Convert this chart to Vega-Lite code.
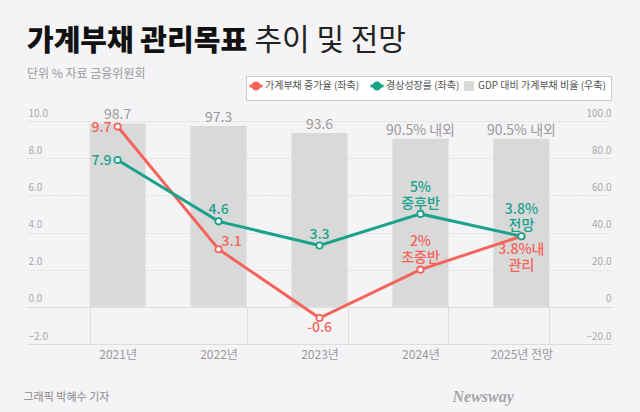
{
  "$schema": "https://vega.github.io/schema/vega-lite/v6.json",
  "width": 585,
  "height": 223,
  "autosize": {"type": "none"},
  "padding": {"left": 27, "top": 121, "right": 28, "bottom": 68},
  "background": "#f4f4f6",
  "config": {"font": "Noto Sans CJK KR", "view": {"stroke": null}},
  "title": {
    "text": "가계부채 관리목표",
    "subtitle": "단위 %   자료 금융위원회",
    "anchor": "start",
    "frame": "group",
    "fontSize": 29,
    "fontWeight": 900,
    "color": "#111111",
    "subtitleFontSize": 12,
    "subtitleColor": "#999999",
    "subtitlePadding": 12,
    "offset": -55
  },
  "datasets": {
    "bars": [
      {"year": "2021년", "series": "GDP 대비 가계부채 비율 (우축)", "value": 98.7, "label": "98.7"},
      {"year": "2022년", "series": "GDP 대비 가계부채 비율 (우축)", "value": 97.3, "label": "97.3"},
      {"year": "2023년", "series": "GDP 대비 가계부채 비율 (우축)", "value": 93.6, "label": "93.6"},
      {"year": "2024년", "series": "GDP 대비 가계부채 비율 (우축)", "value": 90.5, "label": "90.5% 내외"},
      {"year": "2025년 전망", "series": "GDP 대비 가계부채 비율 (우축)", "value": 90.5, "label": "90.5% 내외"}
    ],
    "lines": [
      {"year": "2021년", "series": "가계부채 증가율 (좌축)", "value": 9.7, "label": "9.7"},
      {"year": "2022년", "series": "가계부채 증가율 (좌축)", "value": 3.1, "label": "3.1"},
      {"year": "2023년", "series": "가계부채 증가율 (좌축)", "value": -0.6, "label": "-0.6"},
      {"year": "2024년", "series": "가계부채 증가율 (좌축)", "value": 2, "label": "2%\n초중반"},
      {"year": "2025년 전망", "series": "가계부채 증가율 (좌축)", "value": 3.8, "label": "3.8%내\n관리"},
      {"year": "2021년", "series": "경상성장률 (좌축)", "value": 7.9, "label": "7.9"},
      {"year": "2022년", "series": "경상성장률 (좌축)", "value": 4.6, "label": "4.6"},
      {"year": "2023년", "series": "경상성장률 (좌축)", "value": 3.3, "label": "3.3"},
      {"year": "2024년", "series": "경상성장률 (좌축)", "value": 5, "label": "5%\n중후반"},
      {"year": "2025년 전망", "series": "경상성장률 (좌축)", "value": 3.8, "label": "3.8%\n전망"}
    ]
  },
  "encoding": {
    "x": {
      "field": "year",
      "type": "nominal",
      "sort": null,
      "scale": {"paddingInner": 0.445, "paddingOuter": 0.62},
      "axis": {
        "title": "그래픽 박혜수 기자",
        "titleX": -4,
        "titleY": 53,
        "titleAlign": "left",
        "titleAnchor": null,
        "titleBaseline": "middle",
        "titleFontSize": 11,
        "titleFontWeight": 400,
        "titleColor": "#888888",
        "labelAngle": 0,
        "labelFontSize": 12,
        "labelColor": "#999999",
        "labelPadding": 42,
        "domain": false,
        "ticks": true,
        "tickBand": "extent",
        "tickSize": -37,
        "tickColor": "#dcdcdc",
        "tickOpacity": {"condition": {"test": "datum.value === '2021년'", "value": 0}, "value": 1}
      }
    },
    "color": {
      "field": "series",
      "type": "nominal",
      "scale": {
        "domain": ["가계부채 증가율 (좌축)", "경상성장률 (좌축)", "GDP 대비 가계부채 비율 (우축)"],
        "range": ["#f4645a", "#1aa38b", "#d9d9d9"]
      },
      "legend": {
        "orient": "none",
        "legendX": 219,
        "legendY": -45,
        "direction": "horizontal",
        "title": null,
        "fillColor": "#ffffff",
        "strokeColor": "#cccccc",
        "padding": 5,
        "gridAlign": "none",
        "labelFontSize": 10,
        "labelColor": "#555555",
        "columnPadding": 4,
        "labelOffset": 4,
        "labelLimit": 300,
        "symbolSize": 169,
        "encode": {
          "symbols": {
            "update": {
              "shape": {"signal": "datum.value === 'GDP 대비 가계부채 비율 (우축)' ? 'square' : 'M-1,0H-0.45M0.45,0H1M0.45,0A0.45,0.45,0,1,1,-0.45,0A0.45,0.45,0,1,1,0.45,0'"},
              "fill": {"signal": "datum.value === 'GDP 대비 가계부채 비율 (우축)' ? '#d9d9d9' : '#ffffff'"},
              "stroke": {"signal": "datum.value === '가계부채 증가율 (좌축)' ? '#f4645a' : (datum.value === '경상성장률 (좌축)' ? '#1aa38b' : '#d9d9d9')"},
              "strokeWidth": {"signal": "datum.value === 'GDP 대비 가계부채 비율 (우축)' ? 0 : 3"},
              "size": {"signal": "datum.value === 'GDP 대비 가계부채 비율 (우축)' ? 100 : 169"},
              "opacity": {"value": 1},
              "fillOpacity": {"value": 1},
              "strokeOpacity": {"value": 1}
            }
          }
        }
      }
    }
  },
  "layer": [
    {
      "data": {"name": "bars"},
      "encoding": {
        "y": {
          "field": "value",
          "type": "quantitative",
          "scale": {"domain": [-20, 100], "nice": false, "zero": false},
          "axis": {
            "orient": "right",
            "values": [-20, 0, 20, 40, 60, 80, 100],
            "labelExpr": "datum.value === 0 ? '0' : format(datum.value, '.1f')",
            "labelAlign": "right",
            "labelPadding": -1,
            "labelBaseline": "bottom",
            "labelOffset": -3,
            "labelFontSize": 10,
            "labelColor": "#aaaaaa",
            "ticks": false,
            "domain": false,
            "grid": false,
            "title": "Newsway",
            "titleAngle": 0,
            "titleX": -160,
            "titleY": 275,
            "titleAlign": "left",
            "titleBaseline": "middle",
            "titleFont": "Liberation Sans Narrow",
            "titleFontStyle": "italic",
            "titleFontWeight": "bold",
            "titleFontSize": 16,
            "titleColor": "#a5a5a5"
          }
        }
      },
      "layer": [
        {"mark": {"type": "bar"}},
        {
          "mark": {"type": "text", "baseline": "bottom", "dy": -1, "fontSize": 14, "fill": "#999999"},
          "encoding": {"text": {"field": "label"}, "color": {"value": "#999999"}}
        }
      ]
    },
    {
      "data": {"name": "lines"},
      "encoding": {
        "y": {
          "field": "value",
          "type": "quantitative",
          "scale": {"domain": [-2, 10], "nice": false, "zero": false},
          "axis": {
            "orient": "left",
            "values": [-2, 0, 2, 4, 6, 8, 10],
            "format": ".1f",
            "labelAlign": "left",
            "labelPadding": -1,
            "labelBaseline": "bottom",
            "labelOffset": -3,
            "labelFontSize": 10,
            "labelColor": "#aaaaaa",
            "ticks": false,
            "domain": false,
            "grid": true,
            "gridColor": {"condition": {"test": "datum.value <= 0", "value": "#dddddd"}, "value": "#cccccc"},
            "gridDash": {"condition": {"test": "datum.value <= 0", "value": []}, "value": [1, 2]},
            "title": "추이 및 전망",
            "titleAngle": 0,
            "titleX": 227,
            "titleY": -72,
            "titleAlign": "left",
            "titleBaseline": "alphabetic",
            "titleFontSize": 30,
            "titleFontWeight": 400,
            "titleColor": "#222222"
          }
        }
      },
      "layer": [
        {"mark": {"type": "line", "strokeWidth": 3}},
        {"mark": {"type": "point", "filled": false, "fill": "#ffffff", "fillOpacity": 1, "opacity": 1, "size": 40, "strokeWidth": 1.8}},
        {
          "transform": [{"filter": "datum.year === '2021년'"}],
          "mark": {"type": "text", "align": "right", "baseline": "middle", "dx": -6, "dy": 1, "fontSize": 14, "fontWeight": 500},
          "encoding": {"text": {"field": "label"}}
        },
        {
          "transform": [{"filter": "datum.series === '경상성장률 (좌축)' && (datum.year === '2022년' || datum.year === '2023년')"}],
          "mark": {"type": "text", "align": "center", "baseline": "bottom", "dy": -4, "fontSize": 14, "fontWeight": 500},
          "encoding": {"text": {"field": "label"}}
        },
        {
          "transform": [{"filter": "datum.series === '경상성장률 (좌축)' && (datum.year === '2024년' || datum.year === '2025년 전망')"}],
          "mark": {"type": "text", "align": "center", "baseline": "bottom", "dy": -19, "fontSize": 14, "fontWeight": 500, "lineHeight": 16, "lineBreak": "\n"},
          "encoding": {"text": {"field": "label"}}
        },
        {
          "transform": [{"filter": "datum.series === '가계부채 증가율 (좌축)' && datum.year === '2024년'"}],
          "mark": {"type": "text", "align": "center", "baseline": "bottom", "dy": -21, "fontSize": 14, "fontWeight": 500, "lineHeight": 16, "lineBreak": "\n"},
          "encoding": {"text": {"field": "label"}}
        },
        {
          "transform": [{"filter": "datum.series === '가계부채 증가율 (좌축)' && datum.year === '2022년'"}],
          "mark": {"type": "text", "align": "left", "baseline": "middle", "dx": 3, "dy": -7, "fontSize": 14, "fontWeight": 500},
          "encoding": {"text": {"field": "label"}}
        },
        {
          "transform": [{"filter": "datum.series === '가계부채 증가율 (좌축)' && datum.year === '2023년'"}],
          "mark": {"type": "text", "align": "center", "baseline": "top", "dy": 3, "fontSize": 14, "fontWeight": 500},
          "encoding": {"text": {"field": "label"}}
        },
        {
          "transform": [{"filter": "datum.series === '가계부채 증가율 (좌축)' && datum.year === '2025년 전망'"}],
          "mark": {"type": "text", "align": "center", "baseline": "top", "dy": 7, "fontSize": 14, "fontWeight": 500, "lineHeight": 16, "lineBreak": "\n"},
          "encoding": {"text": {"field": "label"}}
        }
      ]
    }
  ],
  "resolve": {"scale": {"y": "independent"}}
}
